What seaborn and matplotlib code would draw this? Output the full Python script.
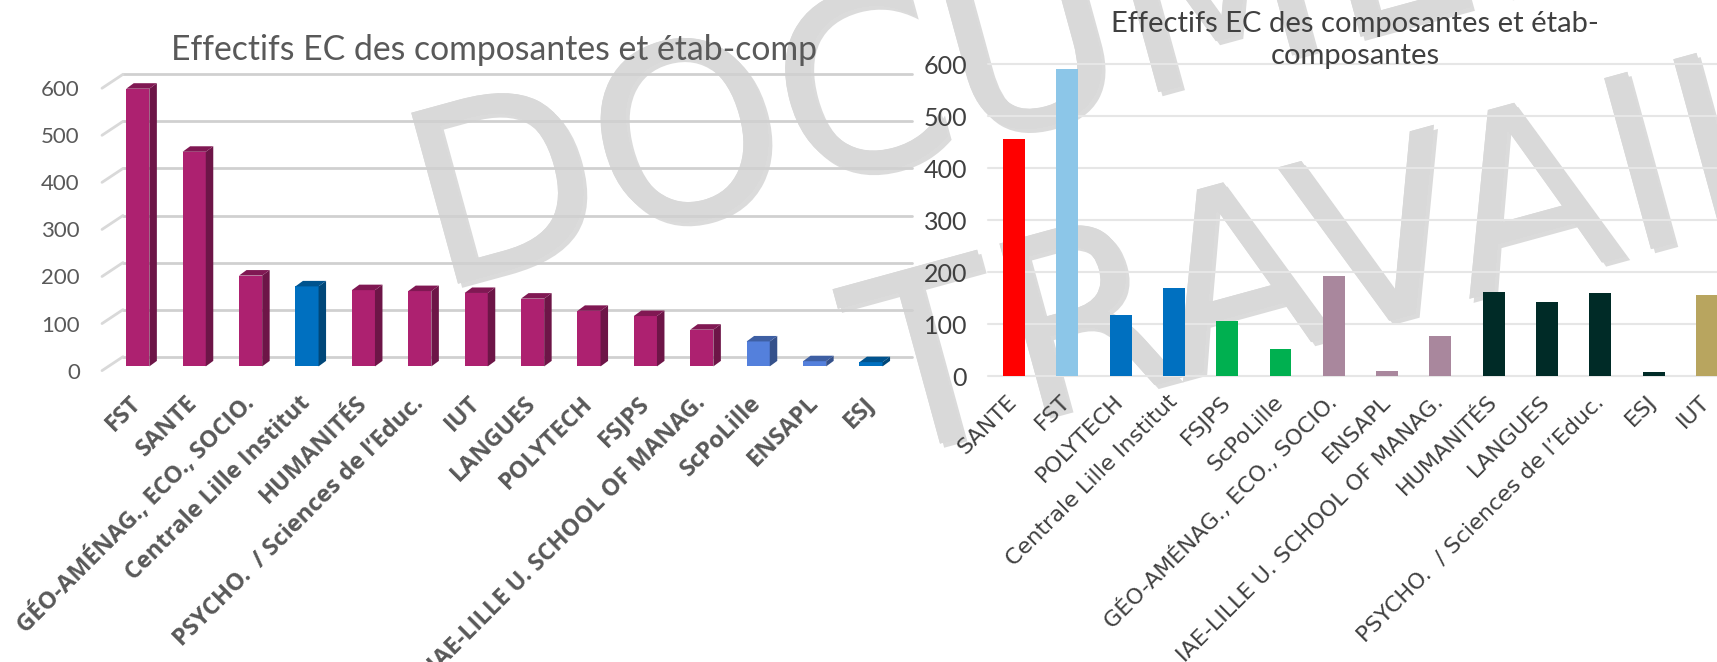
import matplotlib
matplotlib.use("Agg")
import matplotlib.pyplot as plt
import matplotlib.patheffects as pe
from matplotlib.patches import Polygon
from matplotlib.colors import to_rgb
from matplotlib.transforms import ScaledTranslation
import pandas as pd
import seaborn as sns

# left chart, sorted
cats_left = ["FST", "SANTE", "GÉO-AMÉNAG., ECO., SOCIO.", "Centrale Lille Institut", "HUMANITÉS",
             "PSYCHO.  / Sciences de l’Educ.", "IUT", "LANGUES", "POLYTECH", "FSJPS",
             "IAE-LILLE U. SCHOOL OF MANAG.", "ScPoLille", "ENSAPL", "ESJ"]
vals_left = [590, 456, 193, 170, 162, 160, 156, 144, 118, 107, 78, 53, 11, 9]
cols_left = ["#AD2170", "#AD2170", "#AD2170", "#0070C0", "#AD2170", "#AD2170", "#AD2170", "#AD2170",
             "#AD2170", "#AD2170", "#AD2170", "#5480DC", "#5480DC", "#0070C0"]

# right chart, grouped
cats_right = ["SANTE", "FST", "POLYTECH", "Centrale Lille Institut", "FSJPS", "ScPoLille",
              "GÉO-AMÉNAG., ECO., SOCIO.", "ENSAPL", "IAE-LILLE U. SCHOOL OF MANAG.", "HUMANITÉS",
              "LANGUES", "PSYCHO.  / Sciences de l’Educ.", "ESJ", "IUT"]
vals_right = [456, 591, 118, 170, 107, 53, 193, 11, 78, 162, 144, 160, 9, 156]
cols_right = ["#FF0000", "#8CC6E8", "#0070C0", "#0070C0", "#00B050", "#00B050", "#A9879D", "#A9879D",
              "#A9879D", "#002B27", "#002B27", "#002B27", "#002B27", "#B8A55F"]

yticks = [0, 100, 200, 300, 400, 500, 600]

W, H = 1717, 662
CALIB = ["Lato", "DejaVu Sans"]

sns.set_style("white")
fig = plt.figure(figsize=(W / 100, H / 100), dpi=100)


def px_axes(x0, x1, y_bottom, y_top):
    ax = fig.add_axes([x0 / W, 1 - y_bottom / H, (x1 - x0) / W, (y_bottom - y_top) / H])
    ax.patch.set_alpha(0)
    sns.despine(ax=ax, left=True, bottom=True)
    return ax


def shade(col, f):
    return tuple(c * f for c in to_rgb(col))


def draw_bars(ax, cats, vals, cols):
    df = pd.DataFrame({"cat": cats, "val": vals})
    sns.barplot(data=df, x="cat", y="val", hue="cat", palette=dict(zip(cats, cols)),
                order=cats, width=0.41, legend=False, ax=ax, zorder=3, saturation=1,
                edgecolor="none", linewidth=0)
    ax.set_xlabel("")
    ax.set_ylabel("")


# watermark sits behind both charts
shadow = [pe.withSimplePatchShadow(offset=(3, -3), shadow_rgbFace="#999999", alpha=0.35), pe.Normal()]
fig.text(435 / W, 1 - 290 / H, "DOCUMENT DE", fontsize=175, color="#D9D9D9", rotation=15.3,
         rotation_mode="anchor", ha="left", va="baseline", family="DejaVu Sans", zorder=-1, path_effects=shadow)
fig.text(880 / W, 1 - 460 / H, "TRAVAIL", fontsize=175, color="#D9D9D9", rotation=15.3,
         rotation_mode="anchor", ha="left", va="baseline", family="DejaVu Sans", zorder=-1, path_effects=shadow)

# left chart: fake 3D
ax1 = px_axes(102, 912, 366.4, 84)
step1 = 56.4
draw_bars(ax1, cats_left, vals_left, cols_left)
xlim1 = ((102 - 137.8) / step1, (912 - 137.8) / step1)
ax1.set_xlim(xlim1)
ax1.set_ylim(0, 600)

depth_x = 7.5 / step1
depth_y = 5.5 / 0.4707
wall_x = xlim1[0] + 21 / step1
for v in yticks:
    ax1.plot([wall_x, xlim1[1]], [v + 20.6, v + 20.6], color="#D0D0D0", lw=2, clip_on=False, zorder=1)
    ax1.plot([xlim1[0], wall_x], [v - 9, v + 20.6], color="#D9D9D9", lw=2, clip_on=False, zorder=1)

for bar, col in zip(ax1.patches, cols_left):
    x0, w, h = bar.get_x(), bar.get_width(), bar.get_height()
    x1 = x0 + w
    ax1.add_patch(Polygon([(x1, 0), (x1 + depth_x, depth_y), (x1 + depth_x, h + depth_y), (x1, h)],
                          facecolor=shade(col, 0.63), edgecolor="none", zorder=3, clip_on=False))
    ax1.add_patch(Polygon([(x0, h), (x0 + depth_x, h + depth_y), (x1 + depth_x, h + depth_y), (x1, h)],
                          facecolor=shade(col, 0.74), edgecolor="none", zorder=3, clip_on=False))

ax1.set_yticks(yticks)
ax1.tick_params(axis="y", length=0, pad=16, labelsize=16, labelcolor="#595959")
for lab in ax1.get_yticklabels():
    lab.set_family(CALIB)
    lab.set_transform(lab.get_transform() + ScaledTranslation(0, -3 / 72, fig.dpi_scale_trans))
ax1.tick_params(axis="x", length=0, pad=24)
ax1.set_xticks(range(len(cats_left)))
ax1.set_xticklabels(cats_left, rotation=45, ha="right", va="center", rotation_mode="anchor",
                    fontsize=17, fontweight="bold", color="#595959", family="Open Sans")
fig.text(494 / W, 1 - 50 / H, "Effectifs EC des composantes et étab-comp", fontsize=24.3, color="#595959",
         ha="center", va="center", family=CALIB)

# right chart: flat bars
ax2 = px_axes(988, W, 376.5, 64.2)
step2 = 53.3
draw_bars(ax2, cats_right, vals_right, cols_right)
ax2.set_xlim((988 - 1014) / step2, (W - 1014) / step2)
ax2.set_ylim(0, 600)
ax2.set_yticks(yticks)
ax2.yaxis.grid(True, color="#E6E6E6", lw=1.5, zorder=1, clip_on=False)
ax2.set_axisbelow(True)
ax2.tick_params(axis="y", length=0, pad=15, labelsize=18, labelcolor="#404040")
for lab in ax2.get_yticklabels():
    lab.set_family(CALIB)
ax2.tick_params(axis="x", length=0, pad=16)
ax2.set_xticks(range(len(cats_right)))
ax2.set_xticklabels(cats_right, rotation=45, ha="right", va="center", rotation_mode="anchor",
                    fontsize=16, color="#404040", family="DejaVu Sans")
fig.text(1355 / W, 1 - 40 / H, "Effectifs EC des composantes et étab-\ncomposantes", fontsize=21, color="#404040",
         ha="center", va="center", family=CALIB, linespacing=1.3)

fig.savefig("out.png", dpi=100)
